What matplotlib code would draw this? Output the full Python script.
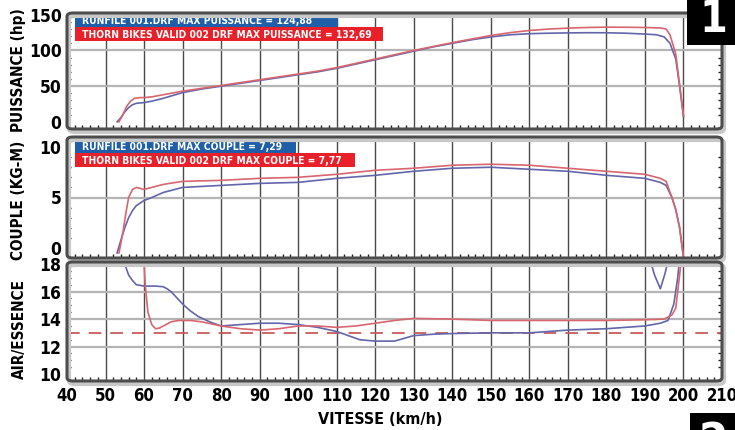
import matplotlib

matplotlib.use("Agg")

import matplotlib.pyplot as plt
import numpy as np
from matplotlib.patches import FancyBboxPatch, Rectangle

plt.rcParams["font.family"] = ["DejaVu Sans"]
plt.rcParams["font.stretch"] = "condensed"
plt.rcParams["font.weight"] = "bold"

# speed axis
speed_ticks = list(range(40, 211, 10))

# power (hp)
pw_blue_x = [53, 54, 55, 56, 57, 58, 60, 62, 65, 70, 75, 80, 85, 90, 95, 100, 105, 110, 115, 120,
             125, 130, 135, 140, 145, 150, 155, 160, 165, 170, 175, 180, 185, 190, 193, 195, 196.5,
             198, 199, 200]
pw_blue = [0, 6, 14, 20, 24, 26, 27, 29, 33, 41, 46, 50, 54, 58, 62, 66, 70, 75, 81, 87,
           93, 99, 105, 110, 115, 119, 122, 123.5, 124.2, 124.6, 124.9, 124.8, 124.2, 123, 122, 119, 110,
           88, 50, 8]
pw_red_x = [53.5, 54.5, 55.5, 56.5, 57.5, 59, 60, 62, 65, 70, 75, 80, 85, 90, 95, 100, 105, 110, 115,
            120, 125, 130, 135, 140, 145, 150, 155, 160, 165, 170, 175, 180, 185, 190, 194, 195.5,
            196.5, 198, 199, 200]
pw_red = [0, 10, 22, 29, 33, 34, 34, 35, 38, 43, 47, 51, 55, 59, 63, 67, 71, 76, 82,
          88, 94, 100, 105.5, 111, 116, 121, 125, 128, 130, 131.3, 132.2, 132.69, 132.5, 132.2, 131.5, 130,
          122, 95, 52, 8]

# torque (kg-m)
tq_blue_x = [53, 54, 55, 56, 57, 58, 60, 62, 65, 70, 75, 80, 90, 100, 110, 120, 130, 140, 150, 160,
             170, 180, 190, 194, 195.5, 197, 198, 199, 200]
tq_blue = [-0.5, 0.8, 2.0, 3.0, 3.7, 4.2, 4.7, 5.0, 5.5, 6.0, 6.1, 6.2, 6.4, 6.5, 6.9, 7.2, 7.6, 7.9, 8.0, 7.8,
           7.6, 7.2, 6.9, 6.5, 6.2, 5.0, 3.8, 2.0, -0.9]
tq_red_x = [53.5, 54.5, 55.3, 56, 57, 58, 59, 60, 62, 65, 70, 80, 90, 100, 110, 120, 130, 140, 150, 160,
            170, 180, 190, 194, 195.5, 197, 198, 199, 200]
tq_red = [-0.5, 1.5, 3.5, 5.0, 5.8, 6.0, 5.9, 5.8, 6.0, 6.3, 6.6, 6.7, 6.9, 7.0, 7.3, 7.7, 7.9, 8.2, 8.3, 8.2,
          7.9, 7.6, 7.3, 6.9, 6.6, 5.0, 3.8, 2.0, -0.9]

# air/fuel ratio
afr_blue_x = [54.5, 55, 56, 57, 58, 60, 63, 65, 66, 67, 70, 72, 74, 77, 80, 85, 90, 95, 100, 105, 110,
              113, 116, 120, 125, 130, 135, 140, 150, 160, 165, 170, 180, 190, 194, 196, 197.5, 198.5, 199.2,
              np.nan, 191, 192.5, 194, 195.2, 196.3]
afr_blue = [19, 18, 17.2, 16.8, 16.5, 16.4, 16.4, 16.35, 16.2, 16.0, 15.1, 14.6, 14.2, 13.8, 13.5, 13.6, 13.7,
            13.7, 13.6, 13.4, 13.1, 12.8, 12.5, 12.4, 12.4, 12.8, 12.9, 12.95, 13.0, 13.0, 13.1, 13.2, 13.3,
            13.5, 13.7, 13.9, 15.1, 17.0, 19,
            np.nan, 18.6, 17.2, 16.2, 17.3, 18.6]
afr_red_x = [59.8, 60.3, 61, 62, 63, 64, 65, 67, 69, 72, 75, 80, 85, 90, 95, 100, 105, 110, 115, 120, 125,
             130, 140, 150, 160, 170, 180, 190, 195, 197, 198, 199, 199.7]
afr_red = [19, 16.5, 14.5, 13.6, 13.3, 13.35, 13.5, 13.8, 13.9, 13.9, 13.8, 13.5, 13.3, 13.2, 13.3, 13.5,
           13.5, 13.4, 13.5, 13.7, 13.9, 14.05, 14.0, 13.9, 13.9, 13.9, 13.9, 13.95, 14.0, 14.3, 14.8, 17.2, 19]
afr_target = 13.0

legend_pw = ["RUNFILE 001.DRF MAX PUISSANCE = 124,88",
             "THORN BIKES VALID 002 DRF MAX PUISSANCE = 132,69"]
legend_tq = ["RUNFILE 001.DRF MAX COUPLE = 7,29",
             "THORN BIKES VALID 002 DRF MAX COUPLE = 7,77"]

BLUE_LINE = "#6266aa"
RED_LINE = "#d8666e"
BLUE_BOX = "#1f5ea8"
RED_BOX = "#e8202a"

W, H = 735, 430
fig = plt.figure(figsize=(W / 100, H / 100), dpi=100)
fig.patch.set_facecolor("white")

ax1 = fig.add_axes([67 / W, 1 - 129 / H, 655 / W, 116 / H])
ax2 = fig.add_axes([67 / W, 1 - 258 / H, 655 / W, 121 / H])
ax3 = fig.add_axes([67 / W, 1 - 381 / H, 655 / W, 119 / H])

setup = [
    (ax1, (-1, 152.5), [0, 50, 100, 150], [50, 100], 10),
    (ax2, (-1, 11), [0, 5, 10], [5], 1),
    (ax3, (9.8, 18.15), [10, 12, 14, 16, 18], [12, 14, 16], 0.5),
]
for ax, ylim, yticks, hgrid, yminor in setup:
    ax.set_xlim(40, 210)
    ax.set_ylim(*ylim)
    ax.set_yticks(yticks)
    ax.set_yticks(np.arange(ylim[0] - ylim[0] % yminor, ylim[1], yminor), minor=True)
    ax.set_xticks(speed_ticks)
    ax.set_xticks(np.arange(40, 211, 2), minor=True)
    for x in speed_ticks[1:-1]:
        ax.axvline(x, color="#4a4a4a", lw=1.0, zorder=1)
    for y in hgrid:
        ax.axhline(y, color="#b4b4b4", lw=1.6, zorder=1)
    ax.tick_params(axis="y", which="major", length=0, labelsize=12.5, pad=4)
    ax.tick_params(axis="x", which="major", length=0, labelsize=12, pad=4)
    ax.tick_params(axis="both", which="minor", direction="in", length=3, width=1,
                   color="#222222", top=True, right=True)
    for s in ax.spines.values():
        s.set_visible(False)
    for lab in ax.get_yticklabels():
        lab.set_fontweight("bold")
    if ax is not ax3:
        ax.set_xticklabels([])
    else:
        for lab in ax.get_xticklabels():
            lab.set_fontweight("bold")

ax1.plot(pw_blue_x, pw_blue, color=BLUE_LINE, lw=1.2, zorder=3)
ax1.plot(pw_red_x, pw_red, color=RED_LINE, lw=1.2, zorder=3)
ax2.plot(tq_blue_x, tq_blue, color=BLUE_LINE, lw=1.2, zorder=3)
ax2.plot(tq_red_x, tq_red, color=RED_LINE, lw=1.2, zorder=3)
ax3.axhline(afr_target, color="#c85a5a", lw=1.3, dashes=(7, 5), zorder=2)
ax3.plot(afr_blue_x, afr_blue, color=BLUE_LINE, lw=1.2, zorder=3)
ax3.plot(afr_red_x, afr_red, color=RED_LINE, lw=1.2, zorder=3)


def legend_boxes(ax, texts, rows, ax_top, ax_h):
    # rows: (right edge px, top px, bottom px) for each colour box
    for text, color, (right, top, bottom) in zip(texts, (BLUE_BOX, RED_BOX), rows):
        y0 = (ax_top + ax_h - bottom) / ax_h
        y1 = (ax_top + ax_h - top) / ax_h
        ax.add_patch(Rectangle(((75 - 67) / 655, y0), (right - 75) / 655, y1 - y0,
                               transform=ax.transAxes, fc=color, ec="none", zorder=5))
        ax.text((82 - 67) / 655, (y0 + y1) / 2, text, transform=ax.transAxes, ha="left",
                va="center_baseline", color="white", fontsize=7.4, fontweight="bold", zorder=6)


legend_boxes(ax1, legend_pw, [(338, 13, 27), (383, 27, 41)], 13, 116)
legend_boxes(ax2, legend_tq, [(296, 140, 153), (355, 153, 167)], 137, 121)

# rounded frames with soft shadow
for ax in (ax1, ax2, ax3):
    bb = ax.get_position()
    shadow = FancyBboxPatch((bb.x0 + 2 / W, bb.y0 - 3 / H), bb.width, bb.height,
                            boxstyle="round,pad=0,rounding_size=0.008", transform=fig.transFigure,
                            fc="none", ec="#c8c8c8", lw=3, zorder=0.5)
    frame = FancyBboxPatch((bb.x0, bb.y0), bb.width, bb.height,
                           boxstyle="round,pad=0,rounding_size=0.008", transform=fig.transFigure,
                           fc="none", ec="#4d4d4d", lw=2.2, zorder=2)
    fig.patches.extend([shadow, frame])

fig.text(19 / W, 1 - 70 / H, "PUISSANCE (hp)", rotation=90, ha="center", va="center",
         fontsize=11, fontweight="bold")
fig.text(19 / W, 1 - 200 / H, "COUPLE (KG-M)", rotation=90, ha="center", va="center",
         fontsize=11, fontweight="bold")
fig.text(19 / W, 1 - 329 / H, "AIR/ESSENCE", rotation=90, ha="center", va="center",
         fontsize=11, fontweight="bold")
fig.text(380 / W, 1 - 419 / H, "VITESSE (km/h)", ha="center", va="center",
         fontsize=11.5, fontweight="bold")

# section markers
fig.patches.append(Rectangle((687 / W, 1 - 45 / H), 48 / W, 45 / H, transform=fig.transFigure,
                             fc="black", ec="none", zorder=3))
fig.text(713 / W, 1 - 19 / H, "1", ha="center", va="center", color="white",
         fontsize=32, fontweight="bold", zorder=4)
fig.patches.append(Rectangle((690 / W, 0), 45 / W, 17 / H, transform=fig.transFigure,
                             fc="black", ec="none", zorder=3))
fig.text(713 / W, 1 - 421 / H, "2", ha="center", va="top", color="white",
         fontsize=34, fontweight="bold", zorder=4)

fig.savefig("out.png", dpi=100)
